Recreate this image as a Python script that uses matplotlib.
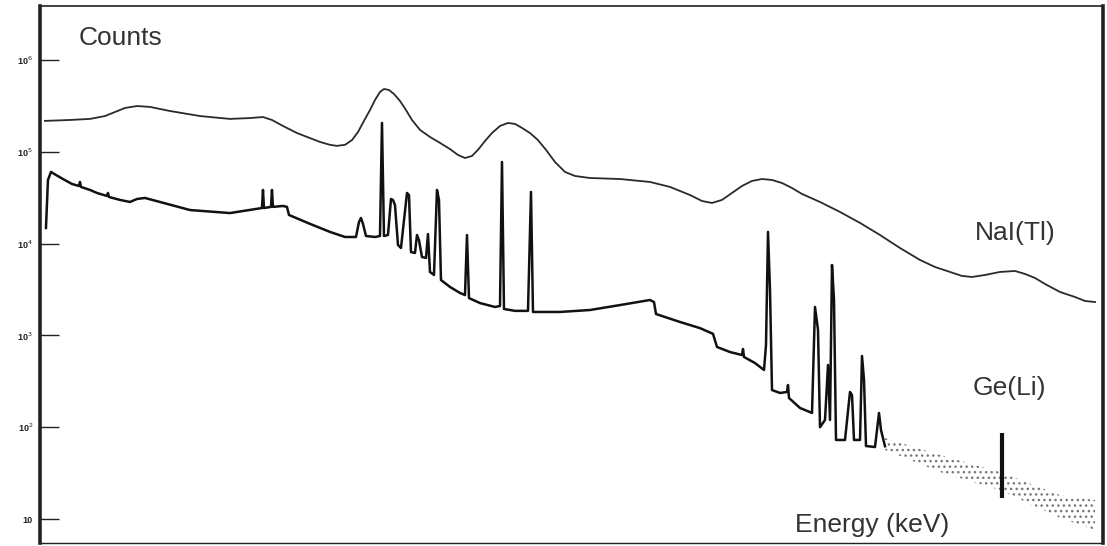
import numpy as np
import matplotlib.pyplot as plt

# NaI(Tl) spectrum (energy in keV, counts)
nai_energy = [10, 60, 100, 130, 150, 170, 194, 220, 260, 320, 380, 420, 446, 464,
              486, 514, 540, 560, 580, 594, 610, 624, 636, 648, 660, 670, 680, 688,
              698, 708, 720, 732, 744, 760, 780, 800, 820, 836, 850, 864, 876, 890,
              904, 920, 936, 950, 964, 980, 996, 1012, 1030, 1050, 1070, 1100, 1160,
              1220, 1260, 1300, 1324, 1344, 1364, 1384, 1404, 1424, 1444, 1464, 1484,
              1504, 1524, 1560, 1600, 1640, 1680, 1720, 1760, 1790, 1820, 1844, 1864,
              1890, 1920, 1950, 1970, 1990, 2010, 2040, 2070, 2090, 2110]
nai_counts = [2.17e5, 2.22e5, 2.28e5, 2.45e5, 2.71e5, 3.00e5, 3.15e5, 3.08e5, 2.78e5,
              2.45e5, 2.28e5, 2.33e5, 2.39e5, 2.22e5, 1.91e5, 1.60e5, 1.41e5, 1.28e5,
              1.19e5, 1.16e5, 1.19e5, 1.34e5, 1.64e5, 2.17e5, 2.85e5, 3.66e5, 4.48e5,
              4.83e5, 4.71e5, 4.26e5, 3.58e5, 2.85e5, 2.22e5, 1.73e5, 1.45e5, 1.25e5,
              1.07e5, 9.23e4, 8.55e4, 9.00e4, 1.05e5, 1.31e5, 1.60e5, 1.91e5, 2.06e5,
              2.01e5, 1.82e5, 1.60e5, 1.34e5, 1.05e5, 7.74e4, 6.03e4, 5.45e4, 5.18e4,
              5.05e4, 4.69e4, 4.14e4, 3.38e4, 2.91e4, 2.77e4, 2.99e4, 3.56e4, 4.24e4,
              4.81e4, 5.05e4, 4.93e4, 4.57e4, 4.03e4, 3.47e4, 2.84e4, 2.21e4, 1.68e4,
              1.24e4, 8.95e3, 6.63e3, 5.56e3, 4.91e3, 4.44e3, 4.33e3, 4.55e3, 4.91e3,
              5.03e3, 4.67e3, 4.22e3, 3.63e3, 2.97e3, 2.62e3, 2.37e3, 2.31e3]

# Ge(Li) spectrum, main part
ge_energy = [12, 16, 22, 32, 46, 64, 78, 80, 82, 100, 114, 134, 136, 138, 160, 180,
             194, 210, 240, 300, 380, 444, 446, 448, 462, 464, 466, 486, 494, 498,
             540, 580, 610, 632, 638, 642, 646, 652, 670, 680, 684, 688, 696, 702,
             706, 710, 716, 722, 734, 738, 742, 750, 754, 758, 764, 772, 776, 780,
             788, 794, 798, 802, 820, 840, 850, 854, 858, 880, 910, 920, 924, 928,
             950, 976, 982, 986, 1040, 1100, 1160, 1220, 1228, 1232, 1280, 1320,
             1346, 1354, 1380, 1404, 1406, 1408, 1430, 1448, 1452, 1456, 1460, 1464,
             1480, 1494, 1496, 1498, 1520, 1544, 1550, 1556, 1560, 1570, 1576, 1580,
             1584, 1588, 1592, 1610, 1620, 1624, 1628, 1640, 1644, 1648, 1652, 1670,
             1678, 1682, 1690]
ge_counts = [1.48e4, 4.93e4, 6.03e4, 5.59e4, 5.05e4, 4.46e4, 4.24e4, 4.69e4, 4.14e4,
             3.84e4, 3.56e4, 3.30e4, 3.56e4, 3.22e4, 2.99e4, 2.84e4, 3.06e4, 3.14e4,
             2.84e4, 2.32e4, 2.15e4, 2.44e4, 3.84e4, 2.44e4, 2.51e4, 3.84e4, 2.51e4,
             2.57e4, 2.51e4, 2.05e4, 1.64e4, 1.34e4, 1.18e4, 1.18e4, 1.72e4, 1.90e4,
             1.64e4, 1.21e4, 1.18e4, 1.21e4, 2.06e5, 1.21e4, 1.24e4, 3.06e4, 2.99e4,
             2.63e4, 9.66e3, 8.95e3, 3.56e4, 3.38e4, 8.09e3, 7.90e3, 1.24e4, 1.09e4,
             7.14e3, 6.97e3, 1.27e4, 4.91e3, 4.55e3, 3.84e4, 2.99e4, 4.01e3, 3.37e3,
             2.90e3, 2.75e3, 1.24e4, 2.55e3, 2.25e3, 2.04e3, 2.09e3, 7.74e4, 1.94e3,
             1.85e3, 1.85e3, 3.65e4, 1.80e3, 1.80e3, 1.89e3, 2.14e3, 2.43e3, 2.31e3,
             1.71e3, 1.40e3, 1.20e3, 1.04e3, 748, 659, 611, 711, 582, 500, 420, 785,
             1.34e4, 3.13e3, 254, 236, 242, 288, 208, 162, 143, 2.04e3, 1.15e3, 100,
             120, 476, 120, 5.85e3, 2.43e3, 72.6, 72.6, 242, 224, 72.6, 72.6, 597,
             327, 62.4, 60.8, 143, 93.1, 62.0]

# Ge(Li) noisy high-energy tail: band of scattered counts
ge_tail_energy = [1690, 1800, 1920, 2040, 2110]
ge_tail_high = [76.3, 49.8, 32.5, 18.2, 16.1]
ge_tail_low = [56.5, 32.5, 20.7, 10.3, 7.59]
ge_tail_peak = [1924]
ge_tail_peak_low = [16.9]
ge_tail_peak_high = [86.5]

yticks = [10, 1e2, 1e3, 1e4, 1e5, 1e6]
yticklabels = ['10', '10$^2$', '10$^3$', '10$^4$', '10$^5$', '10$^6$']

plt.rcParams['font.family'] = ['Liberation Sans', 'DejaVu Sans']
plt.rcParams['hatch.linewidth'] = 1.0

fig = plt.figure(figsize=(11.07, 5.46), dpi=100)
ax = fig.add_axes([0.0361, 0.0055, 0.9603, 0.9835])

ax.plot(nai_energy, nai_counts, color='#2a2a2a', lw=1.3)
ax.plot(ge_energy, ge_counts, color='#111111', lw=1.8)
ax.fill_between(ge_tail_energy, ge_tail_low, ge_tail_high, facecolor='none',
                edgecolor='#777777', hatch='...', linewidth=0)
ax.vlines(ge_tail_peak, ge_tail_peak_low, ge_tail_peak_high, color='#111111', lw=3)

ax.set_yscale('log')
ax.set_xlim(0, 2126)
ax.set_ylim(5.48, 3.87e6)
ax.set_xticks([])
ax.set_yticks(yticks)
ax.set_yticklabels(yticklabels, fontsize=6.5, fontweight='bold')
ax.minorticks_off()
ax.tick_params(axis='y', direction='in', length=14, width=1, pad=5, colors='#222222')

for side, lw in [('left', 2.6), ('right', 2.6), ('top', 1.2), ('bottom', 1.0)]:
    ax.spines[side].set_linewidth(lw)
    ax.spines[side].set_color('#222222')

txt = dict(fontsize=19, color='#333333', va='center', ha='left')
ax.text(0.036, 0.941, 'Counts', transform=ax.transAxes, **txt)
ax.text(0.879, 0.578, 'NaI(Tl)', transform=ax.transAxes, **txt)
ax.text(0.877, 0.288, 'Ge(Li)', transform=ax.transAxes, **txt)
ax.text(0.710, 0.034, 'Energy (keV)', transform=ax.transAxes, **txt)

plt.savefig('out.png', dpi=100)
